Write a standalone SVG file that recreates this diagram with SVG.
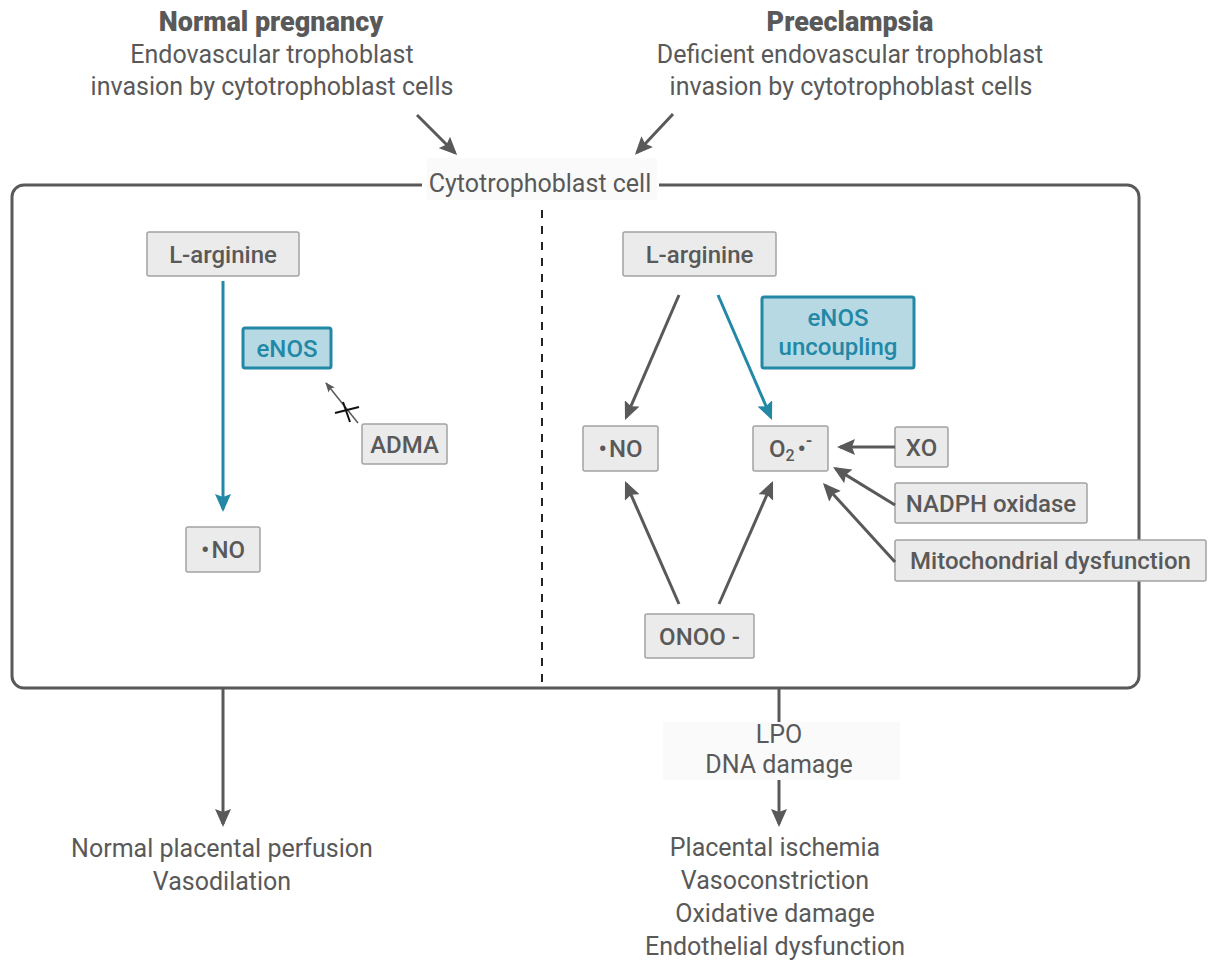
<svg xmlns="http://www.w3.org/2000/svg" width="1208" height="961" viewBox="0 0 1208 961">
<style>
text{font-family:Roboto,"Liberation Sans",sans-serif;fill:#595959;}
.h{font-size:27px;font-weight:900;text-anchor:middle;}
.t{font-size:25px;text-anchor:middle;}
.n{font-size:24px;font-weight:500;text-anchor:middle;}
.box{fill:#ebebeb;stroke:#a3a3a3;stroke-width:1.5;}
.tbox{fill:#b6d9e4;stroke:#2288a6;stroke-width:3;}
.tt{fill:#2288a6;}
.g{stroke:#595959;stroke-width:3;fill:none;marker-end:url(#ag);}
.c{stroke:#2288a6;stroke-width:3;fill:none;marker-end:url(#ac);}
</style>
<defs>
<marker id="ag" markerUnits="userSpaceOnUse" markerWidth="20" markerHeight="16" refX="15" refY="8" orient="auto" viewBox="0 0 20 16"><path d="M0,0 L18,8 L0,16 L3,8 z" fill="#595959"/></marker>
<marker id="ac" markerUnits="userSpaceOnUse" markerWidth="20" markerHeight="16" refX="15" refY="8" orient="auto" viewBox="0 0 20 16"><path d="M0,0 L18,8 L0,16 L3,8 z" fill="#2288a6"/></marker>
<marker id="as" markerUnits="userSpaceOnUse" markerWidth="10" markerHeight="8" refX="9" refY="4" orient="auto" viewBox="0 0 10 8"><path d="M0,0 L10,4 L0,8 L2,4 z" fill="#595959"/></marker>
</defs>

<g id="titles">
<text class="h" x="271" y="31">Normal pregnancy</text>
<text class="t" x="272" y="63">Endovascular trophoblast</text>
<text class="t" x="272" y="95">invasion by cytotrophoblast cells</text>
<text class="h" x="850" y="31">Preeclampsia</text>
<text class="t" x="850" y="63">Deficient endovascular trophoblast</text>
<text class="t" x="851" y="95">invasion by cytotrophoblast cells</text>
</g>

<g id="cell">
<rect x="427" y="158" width="230" height="42" fill="#fafafa"/>
<path d="M422,185 H24 A12,12 0 0 0 12,197 V676 A12,12 0 0 0 24,688 H1127 A12,12 0 0 0 1139,676 V197 A12,12 0 0 0 1127,185 H659" fill="none" stroke="#595959" stroke-width="3"/>
<text class="t" x="540" y="192">Cytotrophoblast cell</text>
<line x1="542" y1="210" x2="542" y2="686" stroke="#222" stroke-width="2" stroke-dasharray="8 8"/>
</g>

<g id="larg-left"><rect class="box" x="147" y="232" width="152" height="44" rx="2"/><text class="n" x="223" y="262.5">L-arginine</text></g>
<g id="enos-left"><rect class="tbox" x="243" y="328" width="88" height="40" rx="2"/><text class="n tt" x="287" y="356.5">eNOS</text></g>
<g id="adma"><rect class="box" x="362" y="424" width="85" height="40" rx="2"/><text class="n" x="404.5" y="452.5">ADMA</text></g>
<g id="no-left"><rect class="box" x="186" y="527" width="74" height="45" rx="2"/><text class="n" x="223" y="558">•<tspan dx="2">NO</tspan></text></g>

<g id="larg-right"><rect class="box" x="623" y="232" width="153" height="44" rx="2"/><text class="n" x="699.5" y="262.5">L-arginine</text></g>
<g id="enos-unc"><rect class="tbox" x="762" y="297" width="152" height="71" rx="2"/><text class="n tt" x="838" y="326">eNOS</text><text class="n tt" x="838" y="355">uncoupling</text></g>
<g id="no-right"><rect class="box" x="583" y="426" width="75" height="45" rx="2"/><text class="n" x="620.5" y="457">•<tspan dx="2">NO</tspan></text></g>
<g id="o2"><rect class="box" x="753" y="426" width="75" height="45" rx="2"/><text class="n" x="790.5" y="457">O<tspan font-size="16" dy="4">2</tspan><tspan dy="-4" dx="3">•</tspan><tspan font-size="18" dy="-10">-</tspan></text></g>
<g id="xo"><rect class="box" x="895" y="427" width="53" height="40" rx="2"/><text class="n" x="921.5" y="455.5">XO</text></g>
<g id="nadph"><rect class="box" x="895" y="483" width="192" height="40" rx="2"/><text class="n" x="991" y="511.5">NADPH oxidase</text></g>
<g id="mito"><rect class="box" x="895" y="540" width="311" height="41" rx="2"/><text class="n" x="1050.5" y="569">Mitochondrial dysfunction</text></g>
<g id="onoo"><rect class="box" x="645" y="614" width="109" height="44" rx="2"/><text class="n" x="699.5" y="644.5">ONOO -</text></g>

<g id="lpo">
<rect x="663" y="722" width="237" height="58" fill="#fafafa"/>
<text class="t" x="779" y="743">LPO</text>
<text class="t" x="779" y="773">DNA damage</text>
</g>

<g id="outcomes">
<text class="t" x="222" y="857">Normal placental perfusion</text>
<text class="t" x="222" y="890">Vasodilation</text>
<text class="t" x="775" y="856">Placental ischemia</text>
<text class="t" x="775" y="889">Vasoconstriction</text>
<text class="t" x="775" y="922">Oxidative damage</text>
<text class="t" x="775" y="955">Endothelial dysfunction</text>
</g>

<g id="connectors">
<line class="g" x1="417" y1="115" x2="455" y2="153"/>
<line class="g" x1="673" y1="114" x2="637" y2="152.6"/>
<line class="c" x1="223" y1="281" x2="223" y2="509"/>
<line x1="358" y1="423" x2="326" y2="383" stroke="#595959" stroke-width="1.5" marker-end="url(#as)"/>
<line x1="335" y1="413" x2="359" y2="407" stroke="#111" stroke-width="2"/>
<line x1="343" y1="402" x2="350" y2="422" stroke="#111" stroke-width="2"/>
<line class="g" x1="679" y1="295" x2="626.2" y2="417.2"/>
<line class="c" x1="718" y1="295" x2="770.8" y2="417.2"/>
<line class="g" x1="895" y1="447" x2="840" y2="447"/>
<line class="g" x1="895" y1="505" x2="835.6" y2="468.6"/>
<line class="g" x1="895" y1="562" x2="825" y2="485.2"/>
<line class="g" x1="679" y1="604" x2="626.2" y2="483.7"/>
<line class="g" x1="719" y1="604" x2="771.8" y2="483.7"/>
<line class="g" x1="223" y1="688" x2="223" y2="824"/>
<line x1="779" y1="688" x2="779" y2="722" stroke="#595959" stroke-width="3"/>
<line class="g" x1="779" y1="780" x2="779" y2="824"/>
</g>
</svg>
